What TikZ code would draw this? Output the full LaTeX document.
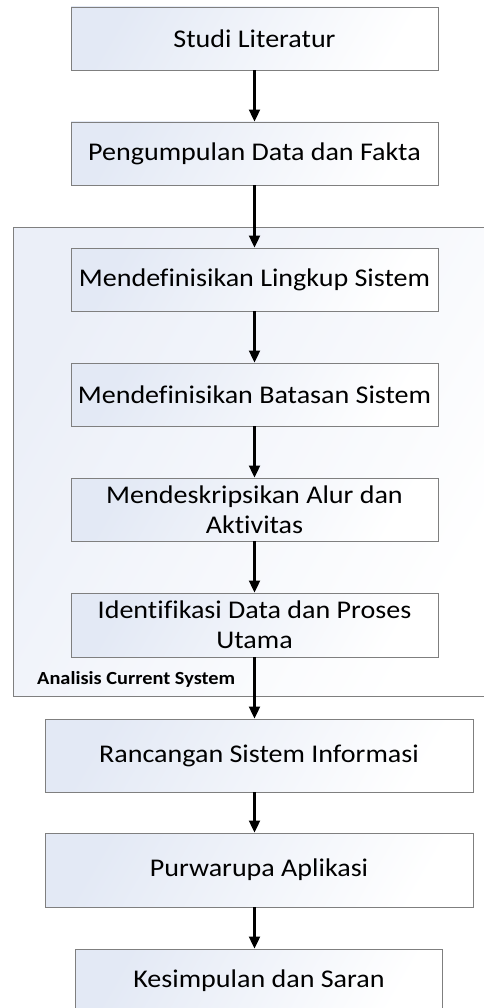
\documentclass[tikz,border=0pt]{standalone}
\usepackage{fontspec}
\setmainfont[FakeStretch=1.1,RawFeature=-liga]{Carlito}
\usetikzlibrary{arrows.meta,calc}
\definecolor{boxshade}{HTML}{E3E9F5}
\definecolor{contshade}{HTML}{EBEFF8}
\definecolor{edge}{HTML}{7F7F7F}
\begin{document}
\begin{tikzpicture}[x=1pt,y=-1pt,
  stepbox/.style={draw=edge, line width=0.9pt, left color=boxshade, right color=white, shading angle=60,
    minimum width=367pt, minimum height=63pt, inner sep=0pt, align=center,
    font=\fontsize{25.5}{30}\selectfont},
  widebox/.style={stepbox, minimum width=428pt, minimum height=73pt},
  flow/.style={line width=2.1pt, -{Triangle[width=11pt,length=12pt]}}]
\useasboundingbox (0,0) rectangle (483,1008);
% container
\draw[draw=edge, line width=0.9pt, left color=contshade, right color=white, shading angle=60]
  (13.5,227.5) rectangle (490,696);
\node[anchor=base west, font=\bfseries\fontsize{18.5}{20}\selectfont, inner sep=0pt] (lbl) at (37,684) {Analisis Current System};
% boxes
\node[stepbox] (b1) at (254.5,38.5) {Studi Literatur};
\node[stepbox] (b2) at (254.5,153.5) {Pengumpulan Data dan Fakta};
\node[stepbox] (b3) at (254.5,279.5) {Mendefinisikan Lingkup Sistem};
\node[stepbox] (b4) at (254.5,394.5) {Mendefinisikan Batasan Sistem};
\node[stepbox] (b5) at (254.5,509.5) {Mendeskripsikan Alur dan\\Aktivitas};
\node[stepbox, minimum height=64pt] (b6) at (254.5,625) {Identifikasi Data dan Proses\\Utama};
\node[widebox] (b7) at (259,755.5) {Rancangan Sistem Informasi};
\node[widebox, minimum height=74pt] (b8) at (259,870) {Purwarupa Aplikasi};
\node[stepbox] (b9) at (259,980.5) {Kesimpulan dan Saran};
% arrows
\draw[flow] (b1.south) -- (b2.north);
\draw[flow] (b2.south) -- (b3.north);
\draw[flow] (b3.south) -- (b4.north);
\draw[flow] (b4.south) -- (b5.north);
\draw[flow] (b5.south) -- (b6.north);
\draw[flow] (b6.south) -- (b6.south |- b7.north);
\draw[flow] (b7.south -| b1.south) -- (b8.north -| b1.south);
\draw[flow] (b8.south -| b1.south) -- (b9.north -| b1.south);
\end{tikzpicture}
\end{document}
